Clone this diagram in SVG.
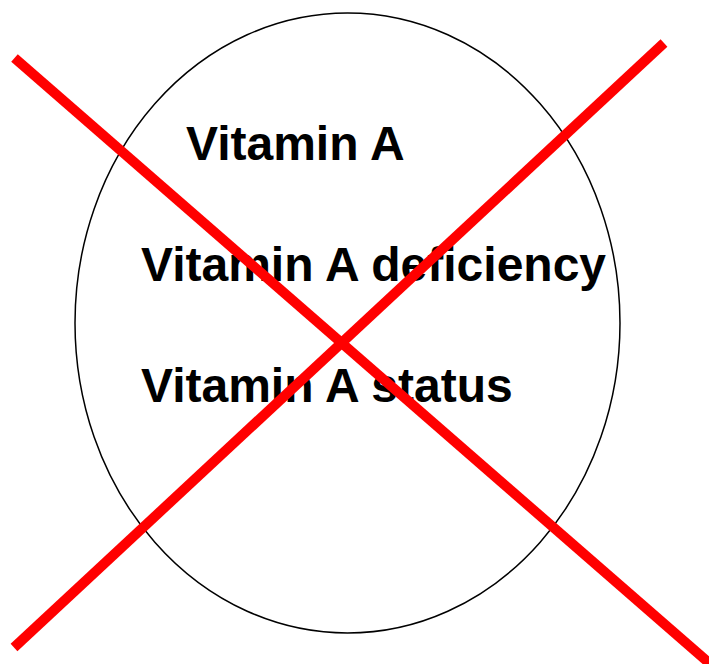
<svg xmlns="http://www.w3.org/2000/svg" width="709" height="664" viewBox="0 0 709 664">
<style>
.lbl{font-family:"Liberation Sans",Arial,sans-serif;font-weight:bold;font-size:48px;fill:#000}
.cross{stroke:#ff0000;stroke-width:10;fill:none}
</style>
<rect width="709" height="664" fill="#fff"/>
<g id="circle">
<ellipse cx="347.5" cy="323" rx="272.5" ry="310" fill="none" stroke="#000" stroke-width="1.5"/>
</g>
<g id="labels">
<text class="lbl" x="186" y="159.5">Vitamin A</text>
<text class="lbl" x="141" y="281">Vitamin A deficiency</text>
<text class="lbl" x="141" y="402">Vitamin A status</text>
</g>
<g id="connectors">
<line class="cross" x1="14.5" y1="58" x2="716" y2="669"/>
<line class="cross" x1="14" y1="647.5" x2="664" y2="43"/>
</g>
</svg>
